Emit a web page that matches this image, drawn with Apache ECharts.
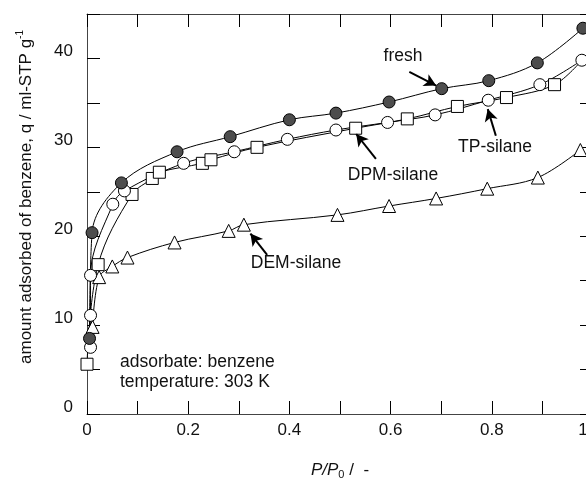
<!DOCTYPE html>
<html>
<head>
<meta charset="utf-8">
<script src="https://cdn.jsdelivr.net/npm/echarts@6/dist/echarts.min.js"></script>
<style>
  html, body { margin: 0; padding: 0; background: #fff; }
  #chart { width: 586px; height: 479px; }
</style>
</head>
<body>
<div id="chart"></div>
<script>
var chart = echarts.init(document.getElementById("chart"));

// P/P0 vs amount adsorbed (ml-STP/g)
let fresh = [
  [0.005, 8.5], [0.01, 20.4], [0.068, 26.0], [0.178, 29.5], [0.283, 31.2],
  [0.4, 33.1], [0.492, 33.85], [0.597, 35.1], [0.701, 36.6], [0.794, 37.5],
  [0.89, 39.5], [0.98, 43.4]
];
let tpSilane = [
  [0.007, 7.5], [0.007, 11.1], [0.007, 15.6], [0.051, 23.6], [0.074, 25.1],
  [0.191, 28.2], [0.291, 29.5], [0.396, 30.9], [0.492, 31.95], [0.594, 32.8],
  [0.688, 33.65], [0.793, 35.3], [0.895, 37.05], [0.978, 39.8]
];
let dpmSilane = [
  [0.0, 5.6], [0.022, 16.8], [0.089, 24.7], [0.129, 26.5], [0.143, 27.2],
  [0.228, 28.2], [0.245, 28.6], [0.336, 30.0], [0.531, 32.15], [0.633, 33.2],
  [0.732, 34.6], [0.829, 35.6], [0.924, 37.05]
];
// the DPM curve runs on into the last TP circle, no marker of its own there
let dpmEnd = [0.978, 39.8];
let demSilane = [
  [0.011, 9.8], [0.024, 15.4], [0.05, 16.6], [0.08, 17.6], [0.173, 19.3],
  [0.28, 20.6], [0.31, 21.3], [0.495, 22.4], [0.597, 23.4], [0.69, 24.25],
  [0.791, 25.35], [0.891, 26.6], [0.975, 29.7]
];

// arrows: [from, to] in data coordinates
let arrowFresh = [[0.637, 38.5], [0.690, 36.95]];
let arrowTP = [[0.808, 31.3], [0.792, 34.3]];
let arrowDPM = [[0.571, 28.7], [0.532, 31.5]];
let arrowDEM = [[0.356, 17.9], [0.323, 20.3]];

let fontName = "Liberation Sans";
let txt = "#111";

function arrow(a) {
  return {
    silent: true,
    symbol: ["none", "arrow"],
    symbolSize: [10, 12],
    label: { show: false },
    lineStyle: { color: "#000", width: 2, type: "solid" },
    data: [[{ coord: a[0] }, { coord: a[1] }]]
  };
}

function makeSeries(name, data, symbol, size, fill, arr) {
  return {
    name: name,
    type: "line",
    data: data,
    smooth: 0.35,
    symbol: symbol,
    symbolSize: size,
    showAllSymbol: true,
    lineStyle: { color: "#000", width: 1 },
    itemStyle: { color: fill, borderColor: "#000", borderWidth: 1 },
    markLine: arrow(arr),
    z: 3
  };
}

let axisLine = { show: true, onZero: false, lineStyle: { color: "#444", width: 1 } };
let tick = { show: true, inside: true, length: 13, lineStyle: { color: "#000", width: 1 } };

function note(x, y, text, align) {
  return {
    type: "text", x: x, y: y, silent: true,
    style: { text: text, fontSize: 17.5, lineHeight: 20, fontFamily: fontName, fill: txt,
             align: align || "center", verticalAlign: "middle" }
  };
}

chart.setOption({
  animation: false,
  textStyle: { fontFamily: fontName },
  grid: { left: 87, top: 14, width: 506, height: 400, outerBoundsMode: "none", containLabel: false },
  xAxis: [
    {
      type: "value", position: "bottom", min: 0, max: 1, interval: 0.1,
      axisLine: axisLine, axisTick: tick, splitLine: { show: false },
      axisLabel: {
        margin: 8, color: txt, fontSize: 17, fontFamily: fontName,
        formatter: function (v) {
          let k = Math.round(v * 10);
          if (k % 2 !== 0) return "";
          if (k === 0) return "0";
          if (k === 10) return "{r|1}";
          return (k / 10).toFixed(1);
        },
        rich: { r: { fontSize: 17, fontFamily: fontName, color: txt, padding: [0, 20, 0, 0] } }
      },
      name: "{i|P/P}{s|0}{n| /  -}",
      nameLocation: "middle",
      nameGap: 47,
      nameTextStyle: {
        rich: {
          i: { fontSize: 17, fontStyle: "italic", fontFamily: fontName, color: txt },
          s: { fontSize: 11, fontFamily: fontName, color: txt, verticalAlign: "bottom", padding: [8, 0, 0, 0] },
          n: { fontSize: 17, fontFamily: fontName, color: txt }
        }
      }
    },
    {
      type: "value", position: "top", min: 0, max: 1, interval: 0.1,
      axisLine: axisLine, axisTick: tick, splitLine: { show: false },
      axisLabel: { show: false }
    }
  ],
  yAxis: [
    {
      type: "value", position: "left", min: 0, max: 45, interval: 5,
      axisLine: axisLine, axisTick: tick, splitLine: { show: false },
      axisLabel: {
        margin: 14, color: txt, fontSize: 17, fontFamily: fontName,
        verticalAlign: "bottom", lineHeight: 14,
        formatter: function (v) { return v % 10 === 0 ? String(v) : ""; }
      },
      name: "{t|amount adsorbed of benzene, q / ml-STP g}{sup|-1}",
      nameLocation: "middle",
      nameGap: 50,
      nameTextStyle: {
        padding: [0, 0, 0, 34],
        rich: {
          t: { fontSize: 17, fontFamily: fontName, color: txt, lineHeight: 22 },
          sup: { fontSize: 10, fontFamily: fontName, color: txt, verticalAlign: "top", lineHeight: 22, padding: [0, 0, 8, 0] }
        }
      }
    },
    {
      type: "value", position: "right", min: 0, max: 45, interval: 5,
      axisLine: axisLine, axisTick: tick, splitLine: { show: false },
      axisLabel: { show: false }
    }
  ],
  graphic: [
    note(403, 56, "fresh"),
    note(495, 147, "TP-silane"),
    note(393, 175, "DPM-silane"),
    note(296, 263, "DEM-silane"),
    note(120, 372, "adsorbate: benzene\ntemperature: 303 K", "left")
  ],
  series: [
    makeSeries("DEM-silane", demSilane, "triangle", 13, "#fff", arrowDEM),
    makeSeries("DPM-silane", dpmSilane.concat([{ value: dpmEnd, symbol: "none" }]), "rect", 12, "#fff", arrowDPM),
    makeSeries("TP-silane", tpSilane, "circle", 12, "#fff", arrowTP),
    makeSeries("fresh", fresh, "circle", 12, "#4d4d4d", arrowFresh)
  ]
});
</script>
</body>
</html>
